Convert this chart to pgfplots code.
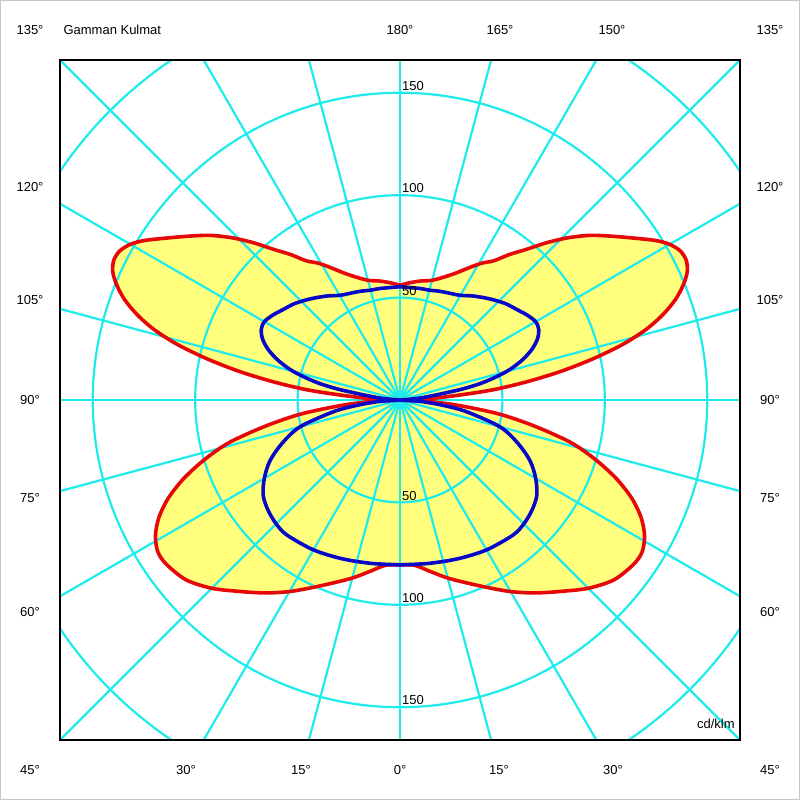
\documentclass[border=0pt]{standalone}
\usepackage{pgfplots}
\pgfplotsset{compat=1.18}
\usepackage{pgfplotstable}
\usepackage{fontspec}
\setmainfont{Liberation Sans}

\definecolor{gridc}{RGB}{30,236,236}
\definecolor{lumred}{RGB}{230,8,8}
\definecolor{lumblue}{RGB}{8,8,200}
\definecolor{lumfill}{RGB}{255,255,125}

% gamma (deg) / intensity (cd/klm), one C-plane each, mirrored left-right
\pgfplotstableread{
g I
0 80.5
5 81
10 85
15 90
20 95
25 101
30 108
35 115
40 122
45 130
50 136.5
55 139.5
58 139.5
61 136.5
64 131
67 123
70 112.5
73 100
76 86
79 67
82 48.5
85 27
87.5 11
90 0
93 17
96 43
98 61
100 79
102 96
104 112
106 125
108 135
110 143
112 149
114 153.5
116 155.5
118 155
120 152
122 147
125 138
128 130
131 122.5
134 114
137 105
140 96
143 89
146 82
149 78
152 73.5
156 68
160 64
165 60.5
170 59
175 57.5
180 56
}\redtab

\pgfplotstableread{
g I
0 80.5
10 81
20 82.5
30 84.5
40 86
45 85.5
50 84
55 81.5
60 76.5
65 70
70 61
75 50.5
80 33
83 21
86 10
90 0
93 4
96 11
98 18
100 31
102 42
105 54
108 62.5
111 69
114 73.5
117 76
120 76.5
124 74.5
128 72
132 70
136 67.5
140 65
145 62
150 59
155 57.5
160 56.5
165 55.5
170 55.3
180 55.3
}\bluetab

\begin{document}
\begin{tikzpicture}[font=\fontsize{13}{15}\selectfont]
\begin{axis}[
    scale only axis,
    width=680pt, height=680pt,
    xmin=-166, xmax=166, ymin=-166, ymax=166,
    xtick=\empty, ytick=\empty,
    axis line style={black, line width=2.4pt},
    axis on top,
]
\coordinate (C) at (axis cs:0,0);
% yellow fill of the red C-plane
\addplot[fill=lumfill, draw=none, smooth] table[x expr={\thisrow{I}*sin(\thisrow{g})}, y expr={-\thisrow{I}*cos(\thisrow{g})}] {\redtab};
\addplot[fill=lumfill, draw=none, smooth] table[x expr={-\thisrow{I}*sin(\thisrow{g})}, y expr={-\thisrow{I}*cos(\thisrow{g})}] {\redtab};

% polar grid
\pgfplotsinvokeforeach{0,15,...,345}{
  \draw[gridc, line width=2.2pt] (axis cs:0,0) -- (axis cs:{260*sin(#1)},{260*cos(#1)});
}
\pgfplotsinvokeforeach{50,100,150,200}{
  \draw[gridc, line width=2.2pt] (axis cs:0,0) circle[radius=#1];
}

\addplot[lumred, line width=3.6pt, smooth] table[x expr={\thisrow{I}*sin(\thisrow{g})}, y expr={-\thisrow{I}*cos(\thisrow{g})}] {\redtab};
\addplot[lumred, line width=3.6pt, smooth] table[x expr={-\thisrow{I}*sin(\thisrow{g})}, y expr={-\thisrow{I}*cos(\thisrow{g})}] {\redtab};
\addplot[lumblue, line width=3.6pt, smooth] table[x expr={\thisrow{I}*sin(\thisrow{g})}, y expr={-\thisrow{I}*cos(\thisrow{g})}] {\bluetab};
\addplot[lumblue, line width=3.6pt, smooth] table[x expr={-\thisrow{I}*sin(\thisrow{g})}, y expr={-\thisrow{I}*cos(\thisrow{g})}] {\bluetab};

% intensity labels
\node[anchor=south west, inner sep=2pt] at (axis cs:0,50) {50};
\node[anchor=south west, inner sep=2pt] at (axis cs:0,100) {100};
\node[anchor=south west, inner sep=2pt] at (axis cs:0,150) {150};
\node[anchor=south west, inner sep=2pt] at (axis cs:0,-50) {50};
\node[anchor=south west, inner sep=2pt] at (axis cs:0,-100) {100};
\node[anchor=south west, inner sep=2pt] at (axis cs:0,-150) {150};
\node[anchor=base east, inner sep=0pt] at (axis cs:163.5,-160.6) {cd/klm};
\end{axis}

% gamma labels round the frame
\node at ([shift={(-370pt,370pt)}]C) {135°};
\node[anchor=west] at ([shift={(-340pt,370pt)}]C) {Gamman Kulmat};
\node at ([shift={(0pt,370pt)}]C) {180°};
\node at ([shift={(100pt,370pt)}]C) {165°};
\node at ([shift={(212pt,370pt)}]C) {150°};
\node at ([shift={(370pt,370pt)}]C) {135°};

\foreach \lab/\dy in {120°/213, 105°/100, 90°/0, 75°/-98, 60°/-212} {
  \node at ([shift={(-370pt,\dy pt)}]C) {\lab};
  \node at ([shift={(370pt,\dy pt)}]C) {\lab};
}

\node at ([shift={(-370pt,-370pt)}]C) {45°};
\node at ([shift={(-214pt,-370pt)}]C) {30°};
\node at ([shift={(-99pt,-370pt)}]C) {15°};
\node at ([shift={(0pt,-370pt)}]C) {0°};
\node at ([shift={(99pt,-370pt)}]C) {15°};
\node at ([shift={(213pt,-370pt)}]C) {30°};
\node at ([shift={(370pt,-370pt)}]C) {45°};

\draw[gray!45, line width=1pt] ([shift={(-399.5pt,-399.5pt)}]C) rectangle ([shift={(399.5pt,399.5pt)}]C);
\end{tikzpicture}
\end{document}
